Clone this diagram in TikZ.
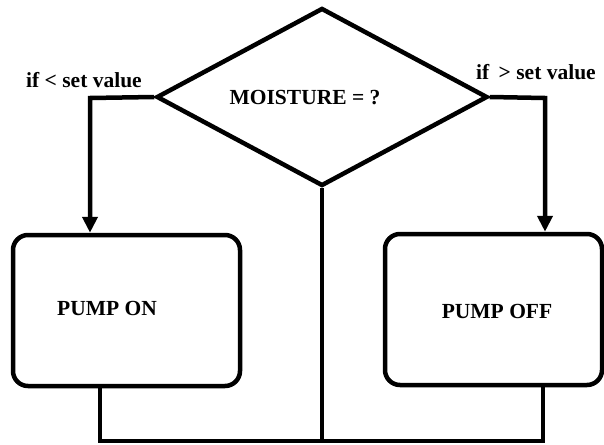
\documentclass[tikz,border=0pt]{standalone}
\usepackage{fontspec}
\setmainfont{Liberation Serif}
\usetikzlibrary{shapes.geometric,arrows.meta}

\tikzset{
  flowline/.style={line width=4.5pt},
  flowarrow/.style={line width=4.5pt, -{Triangle[length=16pt,width=15pt]}},
  decision/.style={draw, diamond, line width=4.5pt, inner sep=0pt,
    minimum width=331pt, minimum height=178pt},
  pumpbox/.style={draw, rectangle, rounded corners=15pt, line width=4.5pt},
  flowtext/.style={font=\fontsize{21.5}{25}\selectfont\bfseries, inner sep=0pt}
}

\begin{document}
\begin{tikzpicture}[x=1pt, y=-1pt]
      \useasboundingbox (0,0) rectangle (604,444);
      % decision diamond
      \node[decision] (moist) at (322,97) {};
      \node[flowtext] (moisttext) at (305,98) {MOISTURE = ?};
      % pump boxes
      \node[pumpbox, minimum width=227pt, minimum height=151pt] (on) at (126.5,310.5) {};
      \node[flowtext] (ontext) at (107,308) {PUMP ON};
      \node[pumpbox, minimum width=217pt, minimum height=151pt] (off) at (493.5,309.5) {};
      \node[flowtext] (offtext) at (497,311) {PUMP OFF};
      % branch labels
      \node[flowtext] (lowtext) at (84,80) {if < set value};
      \node[flowtext] (hightext) at (536,72) {if\hspace{4pt} > set value};
      % branches to the pumps
      \coordinate (lturn) at (90,98);
      \coordinate (rturn) at (545,98);
      \draw[flowarrow] (moist.west) -- (lturn) -- (lturn |- on.north);
      \draw[flowarrow] (moist.east) -- (rturn) -- (rturn |- off.north);
      % return lines at the bottom
      \coordinate (lbot) at (100,441);
      \coordinate (rbot) at (543,441);
      \draw[flowline] (lbot |- on.south) -- (lbot) -- (rbot) -- (rbot |- off.south);
      \draw[flowline, line width=3.5pt] (moist.south) -- (moist.south |- lbot);
    \end{tikzpicture}
\end{document}
